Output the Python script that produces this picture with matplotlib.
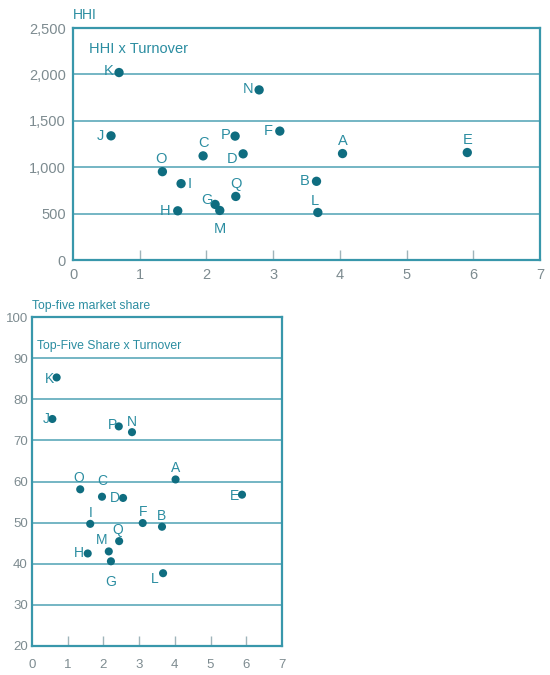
import matplotlib
matplotlib.use("Agg")
import matplotlib.pyplot as plt

# ---------------- data ----------------
labels = ["A", "B", "C", "D", "E", "F", "G", "H", "I", "J", "K", "L", "M", "N", "O", "P", "Q"]
turnover_hhi = [4.04, 3.65, 1.95, 2.55, 5.91, 3.10, 2.13, 1.57, 1.62, 0.57, 0.69, 3.67, 2.20, 2.79, 1.34, 2.43, 2.44]
hhi = [1147, 848, 1122, 1144, 1158, 1389, 599, 530, 823, 1338, 2020, 512, 534, 1833, 952, 1335, 685]

turnover_top5 = [4.02, 3.64, 1.96, 2.55, 5.88, 3.10, 2.21, 1.56, 1.63, 0.57, 0.69, 3.67, 2.15, 2.80, 1.35, 2.43, 2.44]
top5_share = [60.5, 49.0, 56.3, 56.0, 56.8, 49.9, 40.6, 42.5, 49.7, 75.2, 85.3, 37.7, 43.0, 72.0, 58.1, 73.4, 45.5]

hhi_yticks = [0, 500, 1000, 1500, 2000, 2500]
hhi_yticklabels = ["0", "500", "1,000", "1,500", "2,000", "2,500"]
top5_yticks = [20, 30, 40, 50, 60, 70, 80, 90, 100]
xticks = [0, 1, 2, 3, 4, 5, 6, 7]

# ---------------- styles ----------------
SPINE = "#3897ab"
GRID = "#4ea2b4"
DOT = "#0f6d80"
TXT = "#2b8da1"
TICK = "#7d8b90"

# label offsets in points (dx, dy, ha, va)
hhi_off = {
    "A": (0, 4, "center", "bottom"), "B": (-5, 0, "right", "center"),
    "C": (0, 4, "center", "bottom"), "D": (-4, -4, "right", "center"),
    "E": (0, 4, "center", "bottom"), "F": (-5, 0, "right", "center"),
    "G": (-2, 3, "right", "center"), "H": (-5, 0, "right", "center"),
    "I": (5, 0, "left", "center"), "J": (-5, 0, "right", "center"),
    "K": (-4, 1, "right", "center"), "L": (-2, 3, "center", "bottom"),
    "M": (0, -8, "center", "top"), "N": (-4, 1, "right", "center"),
    "O": (-1, 4, "center", "bottom"), "P": (-3, 1, "right", "center"),
    "Q": (0, 4, "center", "bottom"),
}
top5_off = {
    "A": (0, 3, "center", "bottom"), "B": (0, 3, "center", "bottom"),
    "C": (0, 6, "center", "bottom"), "D": (-2, 0, "right", "center"),
    "E": (-2, -1, "right", "center"), "F": (0, 3, "center", "bottom"),
    "G": (0, -10, "center", "top"), "H": (-3, 0, "right", "center"),
    "I": (0, 3, "center", "bottom"), "J": (-2, 0, "right", "center"),
    "K": (-2, -1, "right", "center"), "L": (-3, -4, "right", "center"),
    "M": (-1, 3, "right", "bottom"), "N": (0, 2, "center", "bottom"),
    "O": (-1, 3, "center", "bottom"), "P": (-1, 1, "right", "center"),
    "Q": (-1, 3, "center", "bottom"),
}

REG = ["Liberation Sans", "DejaVu Sans"]
plt.rcParams["font.family"] = REG

fig = plt.figure(figsize=(5.5, 6.75), dpi=100)


def style_axes(ax, ylim, yticks, yticklabels, tsize, ypad, xpad):
    ax.set_xlim(0, 7)
    ax.set_ylim(*ylim)
    for s in ax.spines.values():
        s.set_color(SPINE)
        s.set_linewidth(1.6)
    ax.set_yticks(yticks)
    ax.set_yticklabels(yticklabels, fontsize=tsize, color=TICK)
    ax.set_xticks(xticks)
    ax.set_xticklabels([str(t) for t in xticks], fontsize=tsize, color=TICK)
    ax.tick_params(axis="y", length=0, pad=ypad)
    ax.tick_params(axis="x", direction="in", length=7, width=1, color="#9fb4ba", pad=xpad)
    for t in yticks[1:-1]:
        ax.axhline(t, color=GRID, lw=1.1, zorder=1)
    tl = ax.xaxis.get_ticklines()
    for i, line in enumerate(tl):
        if i // 2 in (0, len(xticks) - 1):
            line.set_visible(False)


# ---------------- top chart ----------------
ax1 = fig.add_axes([73 / 550, 1 - 260 / 675, 467 / 550, 232 / 675])
style_axes(ax1, (0, 2500), hhi_yticks, hhi_yticklabels, 10.5, 5, 6)
ax1.scatter(turnover_hhi, hhi, s=45, color=DOT, zorder=3, edgecolors="none")
for lab, x, y in zip(labels, turnover_hhi, hhi):
    dx, dy, ha, va = hhi_off[lab]
    ax1.annotate(lab, (x, y), xytext=(dx, dy), textcoords="offset points",
                 ha=ha, va=va, fontsize=10.5, color=TXT, zorder=4)
ax1.text(0.035, 0.94, "HHI x Turnover", transform=ax1.transAxes, fontsize=10.5,
         color=TXT, ha="left", va="top")
ax1.text(-0.0, 1.025, "HHI", transform=ax1.transAxes, fontsize=10, color=TXT,
         ha="left", va="bottom")

# ---------------- bottom chart ----------------
ax2 = fig.add_axes([32 / 550, 1 - 646 / 675, 250 / 550, 329 / 675])
style_axes(ax2, (20, 100), top5_yticks, [str(t) for t in top5_yticks], 9.5, 3, 9)
ax2.scatter(turnover_top5, top5_share, s=34, color=DOT, zorder=3, edgecolors="none")
for lab, x, y in zip(labels, turnover_top5, top5_share):
    dx, dy, ha, va = top5_off[lab]
    ax2.annotate(lab, (x, y), xytext=(dx, dy), textcoords="offset points",
                 ha=ha, va=va, fontsize=10, color=TXT, zorder=4)
ax2.text(0.02, 0.93, "Top-Five Share x Turnover", transform=ax2.transAxes, fontsize=8.8,
         color=TXT, ha="left", va="top")
ax2.text(-0.0, 1.015, "Top-five market share", transform=ax2.transAxes, fontsize=8.8,
         color=TXT, ha="left", va="bottom")

fig.savefig("out.png", dpi=100)
